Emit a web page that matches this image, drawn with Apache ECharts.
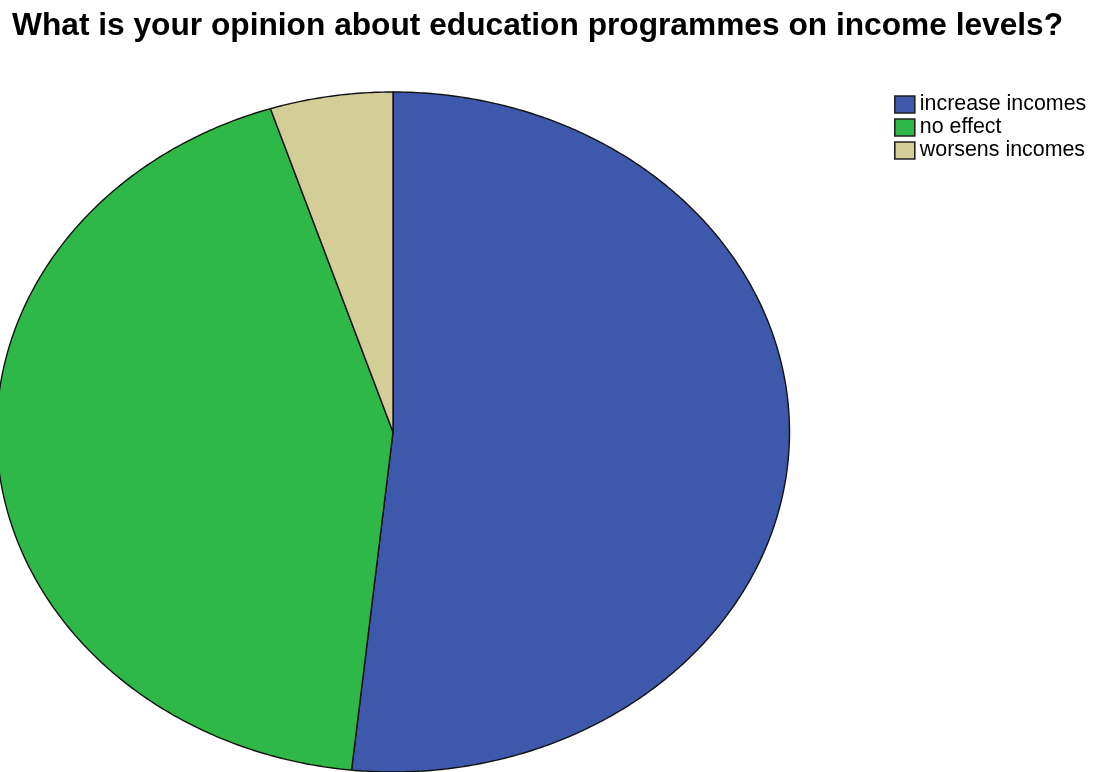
<!DOCTYPE html>
<html>
<head>
<meta charset="utf-8">
<script src="https://cdn.jsdelivr.net/npm/echarts@6/dist/echarts.min.js"></script>
<style>
  html, body { margin: 0; padding: 0; background: #ffffff; }
  #chart { width: 1100px; height: 772px; }
</style>
</head>
<body>
<div id="chart"></div>
<script>
// Survey answers: opinion on education programmes and income levels
const categories = ['increase incomes', 'no effect', 'worsens incomes'];
const counts = [31, 26, 3];
const sliceColors = ['#3e58ac', '#2eb848', '#d3ce97'];

// Elliptical pie geometry (pixels)
const CX = 393, CY = 432, RX = 396.5, RY = 340;

const total = counts.reduce((a, b) => a + b, 0);

// Angle (clockwise from 12 o'clock) where each slice starts
function startAngle(idx) {
  let s = 0;
  for (let i = 0; i < idx; i++) s += counts[i];
  return s / total * Math.PI * 2;
}

function makeRender(idx) {
  return function (params, api) {
    const value = api.value(0);
    const a0 = startAngle(idx);
    const a1 = a0 + value / total * Math.PI * 2;
    const steps = Math.max(4, Math.ceil((a1 - a0) / (Math.PI / 360)));
    const pts = [[CX, CY]];
    for (let k = 0; k <= steps; k++) {
      const a = a0 + (a1 - a0) * k / steps;
      pts.push([CX + RX * Math.sin(a), CY - RY * Math.cos(a)]);
    }
    return {
      type: 'polygon',
      shape: { points: pts },
      style: {
        fill: sliceColors[idx],
        stroke: '#111111',
        lineWidth: 1.4,
        lineJoin: 'round'
      }
    };
  };
}

const series = categories.map((name, i) => ({
  type: 'custom',
  name: name,
  coordinateSystem: 'none',
  renderItem: makeRender(i),
  itemStyle: { color: sliceColors[i], borderColor: '#222222', borderWidth: 1.5 },
  data: [[counts[i]]],
  silent: true,
  animation: false
}));

const chart = echarts.init(document.getElementById('chart'), null, { renderer: 'canvas' });
chart.setOption({
  backgroundColor: '#ffffff',
  animation: false,
  title: {
    text: 'What is your opinion about education programmes on income levels?',
    left: 7,
    top: 5,
    textStyle: {
      fontFamily: 'Liberation Sans, Arial, sans-serif',
      fontWeight: 'bold',
      fontSize: 31.7,
      color: '#000000'
    }
  },
  legend: {
    orient: 'vertical',
    left: 889,
    top: 88,
    icon: 'rect',
    itemWidth: 20,
    itemHeight: 17,
    itemGap: 0,
    selectedMode: false,
    data: categories,
    itemStyle: { borderColor: '#222222', borderWidth: 1.6 },
    textStyle: {
      fontFamily: 'Liberation Sans, Arial, sans-serif',
      fontSize: 21.4,
      lineHeight: 17,
      padding: [6, 0, 0, 0],
      color: '#000000'
    }
  },
  series: series
});
</script>
</body>
</html>
